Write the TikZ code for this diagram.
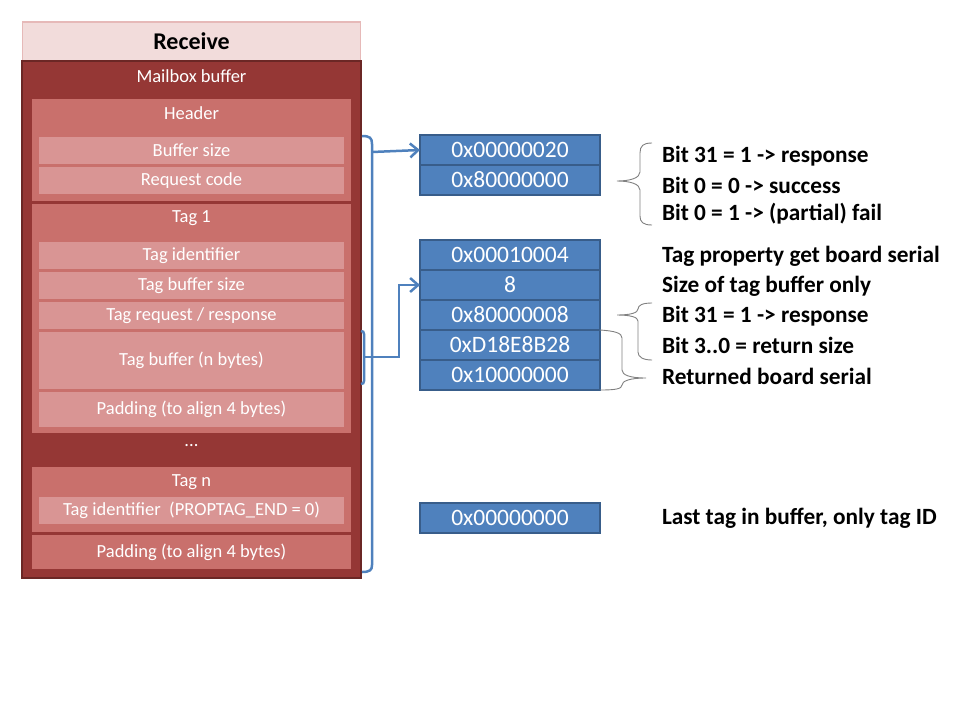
\documentclass[tikz,border=0pt]{standalone}
\usepackage{fontspec}
\setmainfont{Carlito}
\usepackage{tikz}
\usetikzlibrary{positioning,arrows.meta}

\definecolor{hdpink}{HTML}{F2DCDB}
\definecolor{hdline}{HTML}{E6B9B8}
\definecolor{darkred}{HTML}{953735}
\definecolor{darkline}{HTML}{6B2725}
\definecolor{grpred}{HTML}{C9706C}
\definecolor{rowred}{HTML}{D99594}
\definecolor{boxblue}{HTML}{4F81BD}
\definecolor{boxline}{HTML}{385D8A}

\begin{document}
\begin{tikzpicture}[x=1pt,y=-1pt,node distance=0pt,
   every node/.style={inner sep=0pt,outer sep=0pt},
   txt/.style={text=white,font=\fontsize{18.5}{20}\selectfont},
   grp/.style={fill=grpred,minimum width=319pt},
   row/.style={txt,fill=rowred,minimum width=305pt,minimum height=27pt},
   word/.style={draw=boxline,line width=1.5pt,fill=boxblue,text=white,
      minimum width=180pt,minimum height=30pt,font=\fontsize{23.5}{24}\selectfont},
   note/.style={anchor=west,font=\bfseries\fontsize{23.3}{25}\selectfont},
   link/.style={draw=boxblue,line width=2.5pt},
   brace/.style={draw=gray,line width=0.9pt}]
   \useasboundingbox (0,0) rectangle (960,720);

   % mailbox buffer
   \node[fill=hdpink,draw=hdline,line width=1.5pt,minimum width=338pt,minimum height=39pt,
      font=\bfseries\fontsize{24}{26}\selectfont] (recv) at (191.5,41.5) {Receive};
   \node[fill=darkred,draw=darkline,line width=1.5pt,minimum width=339pt,minimum height=517pt] (mbox) at (191.5,319.5) {};
   \node[txt] (mbT) at (191.5,76) {Mailbox buffer};

   \node[grp,minimum height=102pt] (hdr) at (191.5,150) {};
   \node[txt] (hdrT) at (191.5,113) {Header};
   \node[row] (bsize) at (191.5,150.5) {Buffer size};
   \node[row] (rcode) at (191.5,180.5) {Request code};

   \node[grp,minimum height=229pt] (tag1) at (191.5,318.5) {};
   \node[txt] (tag1T) at (191.5,218) {Tag 1};
   \node[row] (tid)  at (191.5,255.5) {Tag identifier};
   \node[row] (tbs)  at (191.5,285.5) {Tag buffer size};
   \node[row] (trr)  at (191.5,315.5) {Tag request / response};
   \node[row,minimum height=57pt] (tbuf) at (191.5,360.5) {Tag buffer (n bytes)};
   \node[row,minimum height=35pt] (tpad) at (191.5,409.5) {Padding (to align 4 bytes)};

   \node[txt] (dots) at (191.5,446) {...};

   \node[grp,minimum height=65pt] (tagn) at (191.5,499.5) {};
   \node[txt] (tagnT) at (191.5,482) {Tag n};
   \node[row] (tidn) at (191.5,510.5) {Tag identifier \ (PROPTAG\_END = 0)};
   \node[grp,txt,minimum height=34pt] (pad) at (191.5,552) {Padding (to align 4 bytes)};

   % response words
   \node[word] (b1) at (510,150) {0x00000020};
   \node[word] (b2) [below=of b1] {0x80000000};
   \node[word] (c1) at (510,255) {0x00010004};
   \node[word] (c2) [below=of c1] {8};
   \node[word] (c3) [below=of c2] {0x80000008};
   \node[word] (c4) [below=of c3] {0xD18E8B28};
   \node[word] (c5) [below=of c4] {0x10000000};
   \node[word] (d1) at (510,518) {0x00000000};

   % notes
   \node[note] (n1) at (662,156) {Bit 31 = 1 -> response};
   \node[note] (n2) at (662,185) {Bit 0 = 0 -> success};
   \node[note] (n3) at (662,214) {Bit 0 = 1 -> (partial) fail};
   \node[note] (n4) at (662,256) {Tag property get board serial};
   \node[note] (n5) at (662,286) {Size of tag buffer only};
   \node[note] (n6) at (662,316) {Bit 31 = 1 -> response};
   \node[note] (n7) at (662,345) {Bit 3..0 = return size};
   \node[note] (n8) at (662,376) {Returned board serial};
   \node[note] (n9) at (662,518) {Last tag in buffer, only tag ID};

   % brackets
   \coordinate (bt) at (372,152);
   \coordinate (ct) at (364,357);
   \path[link] (362,136) .. controls (370,136) and (372,138) .. (372,144) -- (372,565)
      .. controls (372,570) and (370,572) .. (362,572);
   \path[link] (361,331) .. controls (363,331) and (364,332) .. (364,334) -- (364,381)
      .. controls (364,383) and (363,384) .. (361,384);
   \path[link,-{Straight Barb[length=8pt,width=14pt]}] (bt) -- (b1.west);
   \path[link,-{Straight Barb[length=8pt,width=14pt]}] (ct) -| (399,285) -- (c2.west);

   \path[brace] (652,143) .. controls (643,143) and (640,146) .. (640,153) -- (640,172)
      .. controls (640,178) and (630,181) .. (617,181)
      .. controls (630,181) and (640,184) .. (640,190) -- (640,216)
      .. controls (640,222) and (643,225) .. (652,225);
   \path[brace] (652,303) .. controls (643,303) and (638,305) .. (638,309)
      .. controls (638,313) and (630,315) .. (617,315)
      .. controls (630,315) and (638,317) .. (638,321) -- (638,352)
      .. controls (638,357) and (643,360) .. (652,360);
   \path[brace] (c4.north east) .. controls (615,331) and (622,333) .. (622,338) -- (622,370)
      .. controls (622,375) and (630,378) .. (646,378)
      .. controls (630,378) and (622,381) .. (622,385)
      .. controls (622,389) and (615,390) .. (c5.south east);
\end{tikzpicture}
\end{document}
